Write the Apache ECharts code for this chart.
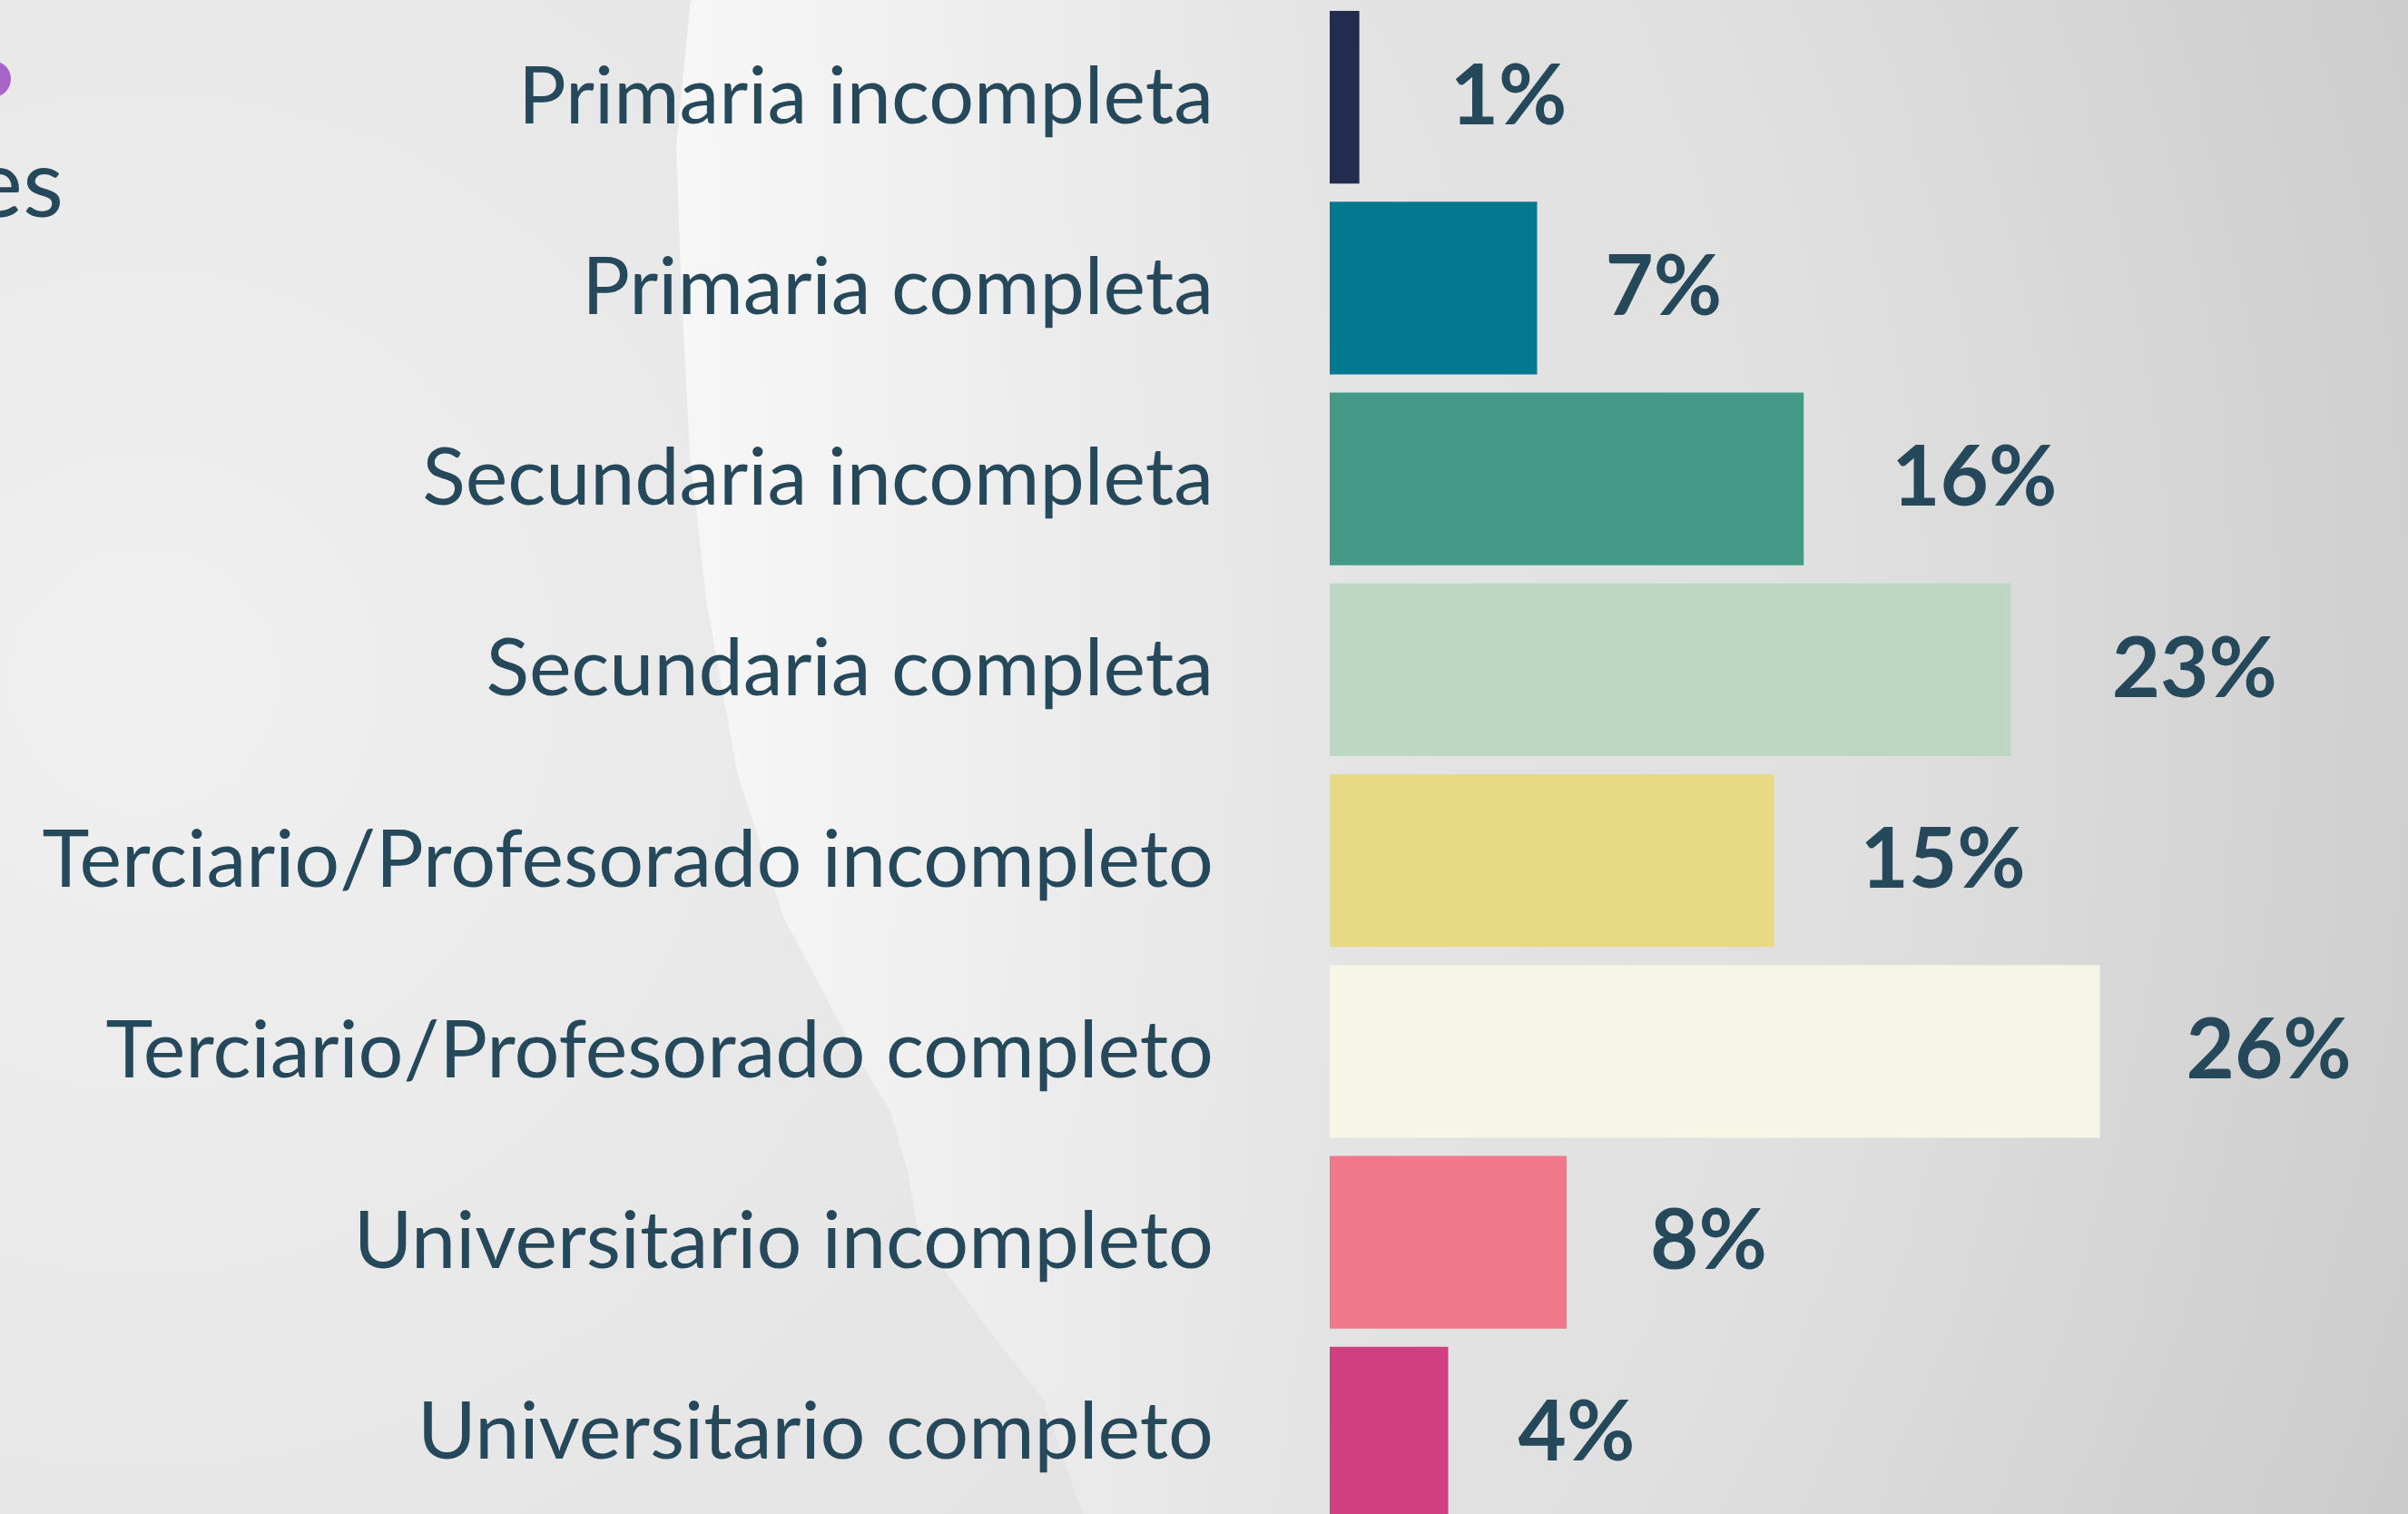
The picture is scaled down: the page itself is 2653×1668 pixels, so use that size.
<!DOCTYPE html>
<html>
<head>
<meta charset="utf-8">
<title>Nivel educativo</title>
<script src="https://cdn.jsdelivr.net/npm/echarts@6/dist/echarts.min.js"></script>
<style>
  html, body { margin: 0; padding: 0; }
  #chart { width: 2653px; height: 1668px; }
</style>
</head>
<body>
<div id="chart"></div>
<script>
// datos
var categorias = [
  'Primaria incompleta',
  'Primaria completa',
  'Secundaria incompleta',
  'Secundaria completa',
  'Terciario/Profesorado incompleto',
  'Terciario/Profesorado completo',
  'Universitario incompleto',
  'Universitario completo'
];
var porcentajes = [1, 7, 16, 23, 15, 26, 8, 4];

// estilos
var colores = ['#212c4e', '#03788f', '#449a87', '#bdd8c2', '#e8d985', '#f7f5e5', '#f0788a', '#d04080'];
var separacionEtiqueta = [100, 75, 97, 111, 95, 95, 92, 77];
var textColor = '#25485a';

var chart = echarts.init(document.getElementById('chart'));

chart.setOption({
  backgroundColor: new echarts.graphic.RadialGradient(0.06, 0.45, 1.6, [
    {offset: 0, color: '#f0f0f0'},
    {offset: 0.3, color: '#e8e8e8'},
    {offset: 0.7, color: '#e0e0e0'},
    {offset: 1, color: '#cbcbcb'}
  ]),
  graphic: [
    {
      // franja clara ondulada del fondo
      type: 'polygon',
      z: -10,
      shape: {
        points: [
          [761, 0], [745, 160], [750, 300], [760, 500], [778, 660], [812, 850],
          [863, 1010], [948, 1170], [981, 1225], [1000, 1290], [1012, 1360],
          [1083, 1457], [1150, 1543], [1193, 1668], [1500, 1668], [1500, 0]
        ]
      },
      style: {
        fill: new echarts.graphic.LinearGradient(0, 0, 1, 0, [
          {offset: 0, color: 'rgba(247,247,247,1)'},
          {offset: 0.45, color: 'rgba(243,243,243,0.6)'},
          {offset: 1, color: 'rgba(240,240,240,0)'}
        ])
      }
    },
    {
      type: 'circle',
      shape: {cx: -8, cy: 87, r: 20},
      style: {fill: '#a865c9'}
    },
    {
      type: 'text',
      x: 70,
      y: 257,
      style: {
        text: 'es',
        fill: textColor,
        font: '400 104px Lato',
        textAlign: 'right',
        textVerticalAlign: 'bottom'
      }
    }
  ],
  grid: {
    left: 1465,
    right: 13,
    top: 2,
    height: 1682,
    outerBoundsMode: 'none'
  },
  xAxis: {
    type: 'value',
    min: 0,
    max: 36,
    show: false
  },
  yAxis: {
    type: 'category',
    inverse: true,
    data: categorias,
    axisLine: {show: false},
    axisTick: {show: false},
    splitLine: {show: false},
    axisLabel: {
      margin: 128,
      color: textColor,
      fontFamily: 'Lato',
      fontSize: 88
    }
  },
  series: [{
    type: 'bar',
    barCategoryGap: '9.6%',
    data: porcentajes.map(function (v, i) {
      return {
        value: v,
        itemStyle: {color: colores[i]},
        label: {distance: separacionEtiqueta[i]}
      };
    }),
    label: {
      show: true,
      position: 'right',
      formatter: '{c}%',
      color: textColor,
      fontFamily: 'Lato',
      fontWeight: 'bold',
      fontSize: 92
    }
  }]
});
</script>
</body>
</html>
